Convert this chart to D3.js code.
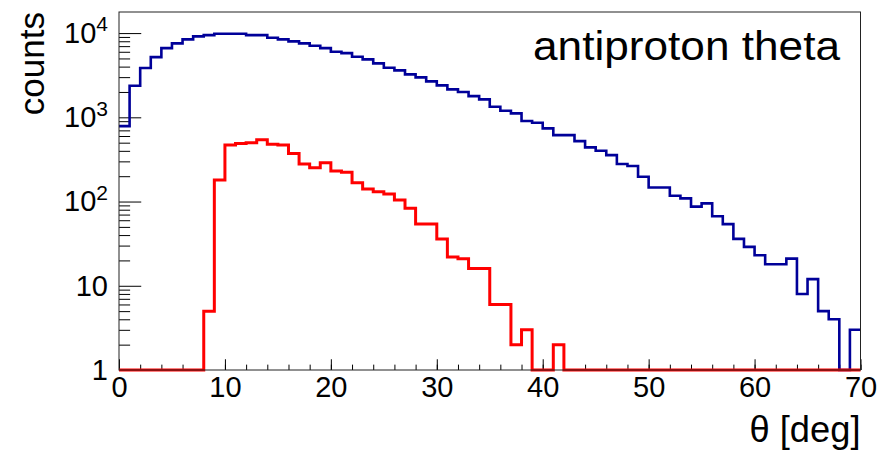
<!DOCTYPE html>
<html>
<head>
<meta charset="utf-8">
<script src="https://cdn.jsdelivr.net/npm/d3@7"></script>
<style>
  body { margin: 0; background: #fff; }
  svg { display: block; font-family: "Liberation Sans", Arial, sans-serif; }
</style>
</head>
<body>
<div id="chart"></div>
<script>
// antiproton theta, two histograms on a log scale (1 degree bins)

const width = 889, height = 454;
const margin = { top: 12, right: 28.5, bottom: 84, left: 119 };

const binEdges = d3.range(0, 71); // 0..70 deg

// all antiprotons
const allCounts = [
  787, 2370, 3843, 5190, 6635, 7540, 8413, 9140, 9470, 9820,
  9820, 9820, 9470, 9470, 8790, 8413, 7970, 7540, 7065, 6635,
  6000, 5790, 5235, 4870, 4365, 3875, 3607, 3234, 2980, 2670,
  2395, 2145, 1995, 1787, 1633, 1334, 1196, 1114, 903, 861,
  739, 615, 615, 522, 440, 401, 356, 279, 264, 197,
  147, 147, 117, 109, 87, 95, 67, 54, 36, 29,
  23, 18, 18, 21, 8, 12, 5, 4, 0, 3
];

// selected antiprotons
const selCounts = [
  0, 0, 0, 0, 0, 0, 0, 0, 5, 180,
  470, 490, 500, 540, 480, 470, 373, 279, 252, 289,
  230, 222, 167, 141, 131, 123, 104, 83, 54, 54,
  36, 22, 21, 16, 16, 6, 6, 2, 3, 0,
  0, 2, 0, 0, 0, 0, 0, 0, 0, 0,
  0, 0, 0, 0, 0, 0, 0, 0, 0, 0,
  0, 0, 0, 0, 0, 0, 0, 0, 0, 0
];

const yTicks = [1, 10, 100, 1000, 10000];
const xTicks = [0, 10, 20, 30, 40, 50, 60, 70];

const svg = d3.select("#chart")
  .append("svg")
  .attr("width", width)
  .attr("height", height);

const x = d3.scaleLinear()
  .domain([0, 70])
  .range([margin.left, width - margin.right]);

const y = d3.scaleLog()
  .domain([1, 17800])
  .range([height - margin.bottom, margin.top]);

const plotW = width - margin.right - margin.left;
const plotH = height - margin.bottom - margin.top;

// histogram outline: steps from the left edge of each bin
function histPath(counts) {
  const pts = counts.map((c, i) => [binEdges[i], Math.max(c, 1)]);
  pts.push([binEdges[counts.length], Math.max(counts[counts.length - 1], 1)]);
  return d3.line()
    .x(d => x(d[0]))
    .y(d => y(d[1]))
    .curve(d3.curveStepAfter)(pts);
}

// x axis (ticks inside)
svg.append("g")
  .attr("transform", `translate(0,${height - margin.bottom})`)
  .call(d3.axisBottom(x).tickValues(d3.range(0, 71, 2)).tickSizeInner(-plotH * 0.015).tickSizeOuter(0).tickFormat(""))
  .call(g => g.select(".domain").remove());

svg.append("g")
  .attr("transform", `translate(0,${height - margin.bottom})`)
  .call(d3.axisBottom(x).tickValues(xTicks).tickSizeInner(-plotH * 0.03).tickSizeOuter(0).tickPadding(6))
  .call(g => g.select(".domain").remove())
  .call(g => g.selectAll("text").attr("font-size", 29).attr("fill", "#000"));

// y axis, log ticks inside
let minor = [];
for (let dec = 1; dec <= 10000; dec *= 10) {
  for (let m = 2; m <= 9; m++) {
    if (dec * m <= y.domain()[1]) minor.push(dec * m);
  }
}

svg.append("g")
  .attr("transform", `translate(${margin.left},0)`)
  .call(d3.axisLeft(y).tickValues(minor).tickSizeInner(-plotW * 0.015).tickSizeOuter(0).tickFormat(""))
  .call(g => g.select(".domain").remove());

const yAxis = svg.append("g")
  .attr("transform", `translate(${margin.left},0)`)
  .call(d3.axisLeft(y).tickValues(yTicks).tickSizeInner(-plotW * 0.03).tickSizeOuter(0).tickPadding(11).tickFormat(""))
  .call(g => g.select(".domain").remove());

yAxis.selectAll(".tick text")
  .attr("font-size", 29)
  .attr("fill", "#000")
  .each(function(d) {
    const t = d3.select(this);
    const p = Math.round(Math.log10(d));
    if (p < 2) {
      t.text(d);
    } else {
      t.text("10");
      t.append("tspan")
        .attr("font-size", 21)
        .attr("dy", "-0.55em")
        .text(p);
    }
  });

// histograms
svg.append("path")
  .attr("d", histPath(allCounts))
  .attr("fill", "none")
  .attr("stroke", "#000099")
  .attr("stroke-width", 2.6);

svg.append("path")
  .attr("d", histPath(selCounts))
  .attr("fill", "none")
  .attr("stroke", "#ff0000")
  .attr("stroke-width", 3);

// frame
svg.append("rect")
  .attr("x", margin.left)
  .attr("y", margin.top)
  .attr("width", plotW)
  .attr("height", plotH)
  .attr("fill", "none")
  .attr("stroke", "#222")
  .attr("stroke-width", 1);

// titles
svg.append("text")
  .attr("x", width - margin.right)
  .attr("y", 442)
  .attr("text-anchor", "end")
  .attr("font-size", 36)
  .attr("textLength", 111)
  .attr("lengthAdjust", "spacingAndGlyphs")
  .text("θ [deg]");

svg.append("text")
  .attr("transform", `translate(44,${margin.top}) rotate(-90)`)
  .attr("text-anchor", "end")
  .attr("font-size", 35)
  .text("counts");

svg.append("text")
  .attr("x", 533)
  .attr("y", 60)
  .attr("font-size", 41)
  .attr("textLength", 307)
  .attr("lengthAdjust", "spacingAndGlyphs")
  .text("antiproton theta");
</script>
</body>
</html>
